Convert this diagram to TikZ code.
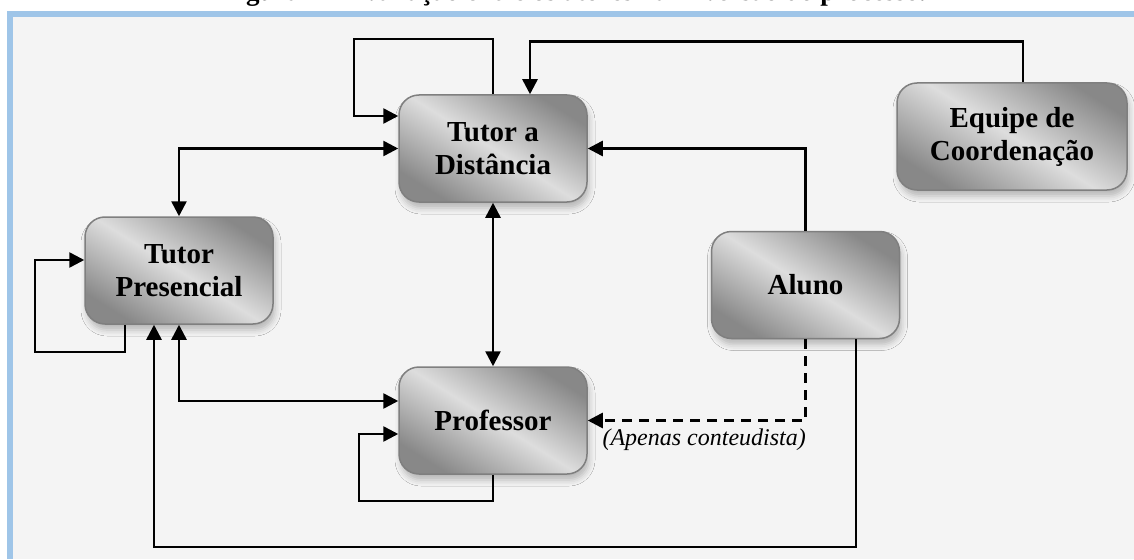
\documentclass[tikz,border=0pt]{standalone}
\usepackage{fontspec}
\setmainfont{Liberation Serif}
\usetikzlibrary{arrows.meta,shadows.blur}

\definecolor{panelblue}{HTML}{9FC5E8}
\definecolor{panelgray}{HTML}{F4F4F4}
\definecolor{boxedge}{HTML}{7F7F7F}
\definecolor{metaldark}{HTML}{888888}
\definecolor{metallight}{HTML}{DDDDDD}

\tikzset{
  actor/.style={
    draw=boxedge, line width=1.5pt, rounded corners=20pt,
    minimum width=188pt, minimum height=107pt, inner sep=0pt,
    align=center, text=black,
    font=\bfseries\fontsize{29}{33}\selectfont,
    top color=metaldark, bottom color=metaldark, middle color=metallight,
    shading angle=-32,
    blur shadow={shadow xshift=2pt, shadow yshift=-6pt,
                 shadow blur radius=6pt, shadow opacity=25}
  },
  tip/.tip={Triangle[length=15pt,width=15pt]},
  conn/.style={line width=2.6pt, draw=black, -tip},
  conn2/.style={line width=2.6pt, draw=black, tip-tip},
  dashconn/.style={conn, dash pattern=on 10pt off 7pt},
  note/.style={font=\itshape\fontsize{24}{28}\selectfont, inner sep=0pt}
}

\begin{document}
\begin{tikzpicture}[x=1pt,y=-1pt]
  \useasboundingbox (0,0) rectangle (1134,559);
  % page and framed panel
  \fill[white] (0,0) rectangle (1134,559);
  \fill[panelblue] (7,11) rectangle (1134,559);
  \fill[panelgray] (13,17) rectangle (1134,559);

  % caption line above the panel (only its lower edge is on the page)
  \begin{scope}
    \clip (0,0) rectangle (1134,11);
    \node[anchor=base west, inner sep=0pt,
          font=\bfseries\fontsize{27}{30}\selectfont] (cap) at (222,1)
      {Figura 1 – Avaliação entre os atores na 1ª versão do processo.};
  \end{scope}

  % actors
  \node[actor] (td) at (493,148.5) {Tutor a\\Distância};
  \node[actor, minimum width=230pt] (ec) at (1012,136.5) {Equipe de\\Coordenação};
  \node[actor] (tp) at (179,270.5) {Tutor\\Presencial};
  \node[actor] (al) at (805.5,285) {Aluno};
  \node[actor] (pr) at (493,420.5) {Professor};

  % self-evaluation loops
  \draw[conn] (td.north) |- (354,39) |- ([yshift=32.5pt]td.west);
  \draw[conn] ([xshift=-54pt]tp.south) |- (35,352) |- ([yshift=10.5pt]tp.west);
  \draw[conn] (pr.south) |- (359,501) |- ([yshift=-13.5pt]pr.west);

  % evaluations between actors
  \draw[conn] ([xshift=11pt]ec.north) -- ++(0,-41) -| ([xshift=37pt]td.north);
  \draw[conn] (al.north) |- (td.east);
  \draw[conn2] (td.west) -| (tp.north);
  \draw[conn2] (td.south) -- (pr.north);
  \draw[conn2] (tp.south) |- ([yshift=19.5pt]pr.west);
  \draw[conn] ([xshift=50.5pt]al.south) |- (154,547) -- ([xshift=-25pt]tp.south);
  \draw[dashconn] (al.south) |- (pr.east);
  \node[note, anchor=base east] (nota) at (806,445) {(Apenas conteudista)};
\end{tikzpicture}
\end{document}
